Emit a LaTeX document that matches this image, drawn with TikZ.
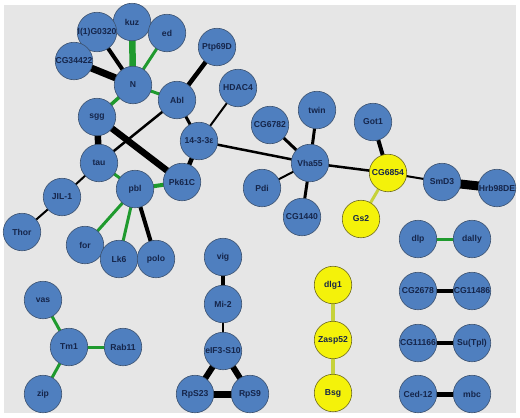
\documentclass[tikz,border=0pt]{standalone}
\usepackage{fontspec}
\setmainfont{Liberation Sans}
\usetikzlibrary{backgrounds}
\definecolor{bgc}{HTML}{E6E6E6}
\definecolor{nblue}{HTML}{4F7FBF}
\definecolor{nborder}{HTML}{3C5270}
\definecolor{nyellow}{HTML}{F4F20A}
\definecolor{yborder}{HTML}{6E6A20}
\definecolor{tcol}{HTML}{15254A}
\definecolor{egreen}{HTML}{1F9A2E}
\definecolor{eyellow}{HTML}{C6D23A}
\tikzset{
  gene/.style={circle, minimum size=37.5pt, inner sep=0pt, fill=nblue, draw=nborder, line width=0.6pt,
    font=\bfseries\fontsize{8.6}{9}\selectfont, text=tcol},
  ygene/.style={gene, fill=nyellow, draw=yborder},
  blk/.style={draw=black, line width=#1},
  grn/.style={draw=egreen, line width=#1},
  ylw/.style={draw=eyellow, line width=#1}
}
\begin{document}
\begin{tikzpicture}[x=1pt,y=-1pt]
\useasboundingbox (0,0) rectangle (520,418);
% nodes
\node[gene] (kuz) at (132,22) {kuz};
\node[gene] (l1G) at (97,32) {l(1)G0320};
\node[gene] (ed) at (167,33) {ed};
\node[gene] (CG34422) at (74,61) {CG34422};
\node[gene] (N) at (133,85) {N};
\node[gene] (Ptp69D) at (217,47) {Ptp69D};
\node[gene] (Abl) at (177,100) {Abl};
\node[gene] (HDAC4) at (238,88) {HDAC4};
\node[gene] (sgg) at (97,117) {sgg};
\node[gene] (t1433) at (199,141) {14-3-3ε};
\node[gene] (tau) at (99,163) {tau};
\node[gene] (Pk61C) at (182,182) {Pk61C};
\node[gene] (pbl) at (135,189) {pbl};
\node[gene] (JIL1) at (62,197) {JIL-1};
\node[gene] (Thor) at (22,232) {Thor};
\node[gene] (for) at (85,245) {for};
\node[gene] (Lk6) at (119,259) {Lk6};
\node[gene] (polo) at (156,259) {polo};
\node[gene] (CG6782) at (270,125) {CG6782};
\node[gene] (twin) at (317,110) {twin};
\node[gene] (Vha55) at (310,163) {Vha55};
\node[gene] (Pdi) at (262,188) {Pdi};
\node[gene] (CG1440) at (302,217) {CG1440};
\node[gene] (Got1) at (373,122) {Got1};
\node[ygene] (CG6854) at (388,173) {CG6854};
\node[ygene] (Gs2) at (361,219) {Gs2};
\node[gene] (SmD3) at (442,182) {SmD3};
\node[gene] (Hrb98DE) at (497,188) {Hrb98DE};
\node[gene] (dlp) at (418,239) {dlp};
\node[gene] (dally) at (472,239) {dally};
\node[gene] (vig) at (223,257) {vig};
\node[gene] (Mi2) at (223,304) {Mi-2};
\node[gene] (eIF3) at (223,351) {eIF3-S10};
\node[gene] (RpS23) at (195,394) {RpS23};
\node[gene] (RpS9) at (250,394) {RpS9};
\node[ygene] (dlg1) at (333,285) {dlg1};
\node[ygene] (Zasp52) at (333,340) {Zasp52};
\node[ygene] (Bsg) at (333,393) {Bsg};
\node[gene] (CG2678) at (418,291) {CG2678};
\node[gene] (CG11486) at (472,291) {CG11486};
\node[gene] (CG11166) at (418,343) {CG11166};
\node[gene] (SuTpl) at (472,343) {Su(Tpl)};
\node[gene] (Ced12) at (418,394) {Ced-12};
\node[gene] (mbc) at (472,394) {mbc};
\node[gene] (vas) at (43,300) {vas};
\node[gene] (Tm1) at (69,347) {Tm1};
\node[gene] (Rab11) at (123,347) {Rab11};
\node[gene] (zip) at (43,394) {zip};
\begin{pgfonlayer}{background}
\fill[bgc] (4,5) rectangle (516,413);
\draw[blk=7pt] (CG34422.center) -- (N.center);
\draw[blk=4pt] (l1G.center) -- (N.center);
\draw[grn=6.5pt] (kuz.center) -- (N.center);
\draw[grn=3pt] (ed.center) -- (N.center);
\draw[grn=3pt] (N.center) -- (Abl.center);
\draw[grn=3.5pt] (N.center) -- (sgg.center);
\draw[blk=4.5pt] (Ptp69D.center) -- (Abl.center);
\draw[blk=2.5pt] (Abl.center) -- (tau.center);
\draw[blk=3pt] (Abl.center) -- (t1433.center);
\draw[blk=2pt] (HDAC4.center) -- (t1433.center);
\draw[blk=6.5pt] (sgg.center) -- (tau.center);
\draw[blk=6.5pt] (sgg.center) -- (Pk61C.center);
\draw[blk=4.5pt] (t1433.center) -- (Pk61C.center);
\draw[blk=2.5pt] (t1433.center) -- (Vha55.center);
\draw[grn=3pt] (tau.center) -- (pbl.center);
\draw[blk=2pt] (tau.center) -- (JIL1.center);
\draw[grn=4pt] (pbl.center) -- (Pk61C.center);
\draw[blk=2pt] (JIL1.center) -- (Thor.center);
\draw[grn=3pt] (pbl.center) -- (for.center);
\draw[grn=3pt] (pbl.center) -- (Lk6.center);
\draw[blk=4pt] (pbl.center) -- (polo.center);
\draw[blk=3pt] (Vha55.center) -- (CG6782.center);
\draw[blk=3pt] (Vha55.center) -- (twin.center);
\draw[blk=2pt] (Vha55.center) -- (Pdi.center);
\draw[blk=3pt] (Vha55.center) -- (CG1440.center);
\draw[blk=2.5pt] (Vha55.center) -- (CG6854.center);
\draw[blk=4pt] (Got1.center) -- (CG6854.center);
\draw[ylw=3pt] (CG6854.center) -- (Gs2.center);
\draw[blk=2pt] (CG6854.center) -- (SmD3.center);
\draw[blk=9pt] (SmD3.center) -- (Hrb98DE.center);
\draw[grn=3pt] (dlp.center) -- (dally.center);
\draw[blk=4pt] (vig.center) -- (Mi2.center);
\draw[blk=2pt] (Mi2.center) -- (eIF3.center);
\draw[blk=6pt] (eIF3.center) -- (RpS23.center);
\draw[blk=6pt] (eIF3.center) -- (RpS9.center);
\draw[blk=7pt] (RpS23.center) -- (RpS9.center);
\draw[ylw=4pt] (dlg1.center) -- (Zasp52.center);
\draw[ylw=4pt] (Zasp52.center) -- (Bsg.center);
\draw[blk=4pt] (CG2678.center) -- (CG11486.center);
\draw[blk=4pt] (CG11166.center) -- (SuTpl.center);
\draw[blk=5pt] (Ced12.center) -- (mbc.center);
\draw[grn=3pt] (vas.center) -- (Tm1.center);
\draw[grn=3pt] (Tm1.center) -- (Rab11.center);
\draw[grn=3pt] (Tm1.center) -- (zip.center);
\end{pgfonlayer}
\end{tikzpicture}
\end{document}
